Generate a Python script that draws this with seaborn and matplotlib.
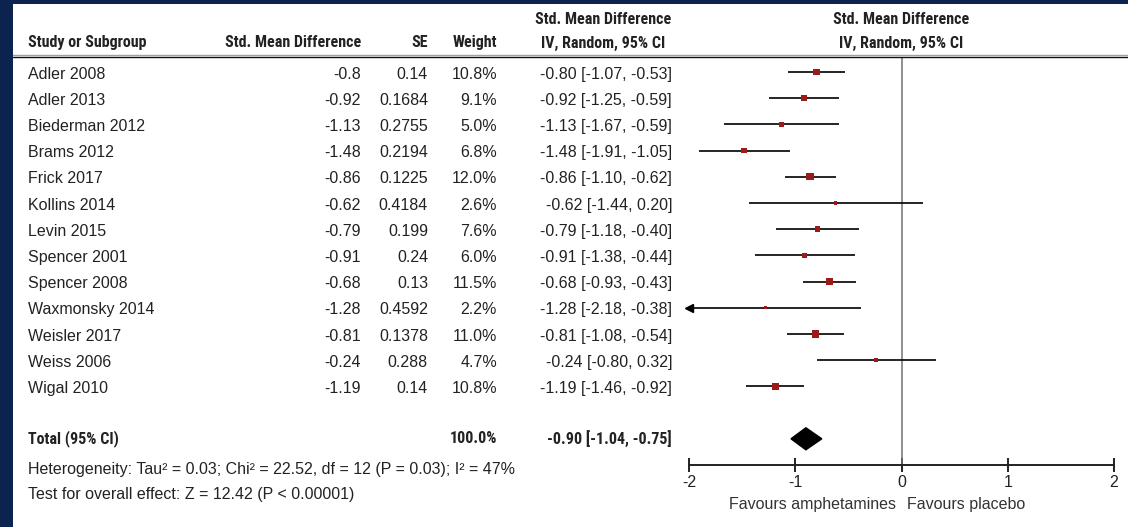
# Forest plot: amphetamines vs placebo, Std. Mean Difference (IV, Random, 95% CI)
import numpy as np
import pandas as pd
import matplotlib.pyplot as plt
import matplotlib.transforms as mtransforms
from matplotlib import font_manager
from matplotlib.lines import Line2D
from matplotlib.patches import Rectangle
import seaborn as sns

# Daten
studien = ["Adler 2008", "Adler 2013", "Biederman 2012", "Brams 2012", "Frick 2017",
           "Kollins 2014", "Levin 2015", "Spencer 2001", "Spencer 2008", "Waxmonsky 2014",
           "Weisler 2017", "Weiss 2006", "Wigal 2010"]
smd = [-0.8, -0.92, -1.13, -1.48, -0.86, -0.62, -0.79, -0.91, -0.68, -1.28, -0.81, -0.24, -1.19]
se = [0.14, 0.1684, 0.2755, 0.2194, 0.1225, 0.4184, 0.199, 0.24, 0.13, 0.4592, 0.1378, 0.288, 0.14]
gewicht = [10.8, 9.1, 5.0, 6.8, 12.0, 2.6, 7.6, 6.0, 11.5, 2.2, 11.0, 4.7, 10.8]
ci_low = [-1.07, -1.25, -1.67, -1.91, -1.10, -1.44, -1.18, -1.38, -0.93, -2.18, -1.08, -0.80, -1.46]
ci_high = [-0.53, -0.59, -0.59, -1.05, -0.62, 0.20, -0.40, -0.44, -0.43, -0.38, -0.54, 0.32, -0.92]

total_est, total_low, total_high = -0.90, -1.04, -0.75
total_weight = 100.0
heterogeneity = "Heterogeneity: Tau² = 0.03; Chi² = 22.52, df = 12 (P = 0.03); I² = 47%"
overall = "Test for overall effect: Z = 12.42 (P < 0.00001)"
x_ticks = [-2, -1, 0, 1, 2]
links_label = "Favours amphetamines"
rechts_label = "Favours placebo"

df = pd.DataFrame({"studie": studien, "smd": smd, "se": se, "w": gewicht,
                   "lo": ci_low, "hi": ci_high})
df["zeile"] = np.arange(len(df))

# Stil
sns.set_theme(style="white")
plt.rcParams["font.family"] = ["Liberation Sans", "DejaVu Sans"]
plt.rcParams["axes.unicode_minus"] = False
navy = "#0c2350"
rot = "#9b1b1b"
fs = 11.5

# schmale fette Schrift für Überschriften, falls vorhanden
vorhanden = {f.name for f in font_manager.fontManager.ttflist}
schmal = [n for n in ["Liberation Sans Narrow", "Arial Narrow", "Noto Sans Condensed",
                      "DejaVu Sans Condensed", "Roboto Condensed", "Open Sans Condensed"]
          if n in vorhanden]
if schmal:
    bold_font = [schmal[0], "Liberation Sans"]
    fs_bold = fs
else:
    bold_font = ["Liberation Sans", "DejaVu Sans"]
    fs_bold = 10.2

fig = plt.figure(figsize=(11.28, 5.27), dpi=100)
fig.patch.set_facecolor(navy)
fig.add_artist(Rectangle((13 / 1128, 0), 1, 1 - 4 / 527, transform=fig.transFigure,
                         facecolor="white", edgecolor="none", zorder=-10))

ax = fig.add_axes([689 / 1128, (527 - 465) / 527, 425 / 1128, (465 - 57) / 527])
ax.set_facecolor("none")
ax.set_xlim(-2, 2)
ax.set_ylim(15.0, -0.5725)

# Konfidenzintervalle
lo_clip = df["lo"].clip(lower=-2)
hi_clip = df["hi"].clip(upper=2)
ax.hlines(df["zeile"], lo_clip, hi_clip, color="black", lw=1.2, zorder=2)
pfeil = df[df["lo"] < -2]
ax.plot(np.full(len(pfeil), -2.0), pfeil["zeile"], marker="<", ls="none",
        color="black", ms=6, zorder=3, clip_on=False)

# Punktschätzer (Fläche ~ Gewicht)
sns.scatterplot(data=df, x="smd", y="zeile", size="w", sizes=(0, 28), size_norm=(0, 12),
                marker="s", color=rot, edgecolor="none", legend=False, ax=ax, zorder=4)

# Gesamt-Raute
total_row = len(df) + 1
ax.fill([total_low, total_est, total_high, total_est],
        [total_row, total_row - 0.42, total_row, total_row + 0.42],
        color="black", zorder=4)

ax.axvline(0, color="#707070", lw=1.1, zorder=1)

# Achse
for s in ["top", "left", "right"]:
    ax.spines[s].set_visible(False)
ax.spines["bottom"].set_color("#222222")
ax.spines["bottom"].set_linewidth(1.4)
ax.set_xticks(x_ticks)
ax.set_xticklabels([str(t) for t in x_ticks])
ax.set_yticks([])
ax.set_xlabel("")
ax.set_ylabel("")
ax.tick_params(axis="x", direction="inout", length=10, width=1.4, color="#222222",
               labelsize=fs, pad=2.5, bottom=True, labelcolor="#222222")
ax.text(-0.05, 16.5, links_label, ha="right", va="center", fontsize=fs, color="#333333")
ax.text(0.05, 16.5, rechts_label, ha="left", va="center", fontsize=fs, color="#333333")

# Tabelle links
tr = mtransforms.blended_transform_factory(fig.transFigure, ax.transData)
px = lambda p: p / 1128

hdr = dict(fontsize=fs_bold, fontweight="bold", family=bold_font, va="center", color="#222222")
ax.text(px(603), -1.985, "Std. Mean Difference", ha="center", transform=tr, **hdr)
ax.text(px(28), -1.107, "Study or Subgroup", ha="left", transform=tr, **hdr)
ax.text(px(361), -1.107, "Std. Mean Difference", ha="right", transform=tr, **hdr)
ax.text(px(428), -1.107, "SE", ha="right", transform=tr, **hdr)
ax.text(px(497), -1.107, "Weight", ha="right", transform=tr, **hdr)
ax.text(px(603), -1.107, "IV, Random, 95% CI", ha="center", transform=tr, **hdr)
ax.text(0, -1.985, "Std. Mean Difference", ha="center", **hdr)
ax.text(0, -1.107, "IV, Random, 95% CI", ha="center", **hdr)

# doppelte Kopflinie
fig.add_artist(Line2D([13 / 1128, 1], [-0.5725, -0.5725], transform=tr, color="#111111", lw=1.0))
fig.add_artist(Line2D([13 / 1128, 1], [-0.63, -0.63], transform=tr, color="#a0a0a0", lw=1.0))

body = dict(fontsize=fs, va="center", transform=tr, color="#222222")
for _, r in df.iterrows():
    y = r["zeile"] + 0.08
    ax.text(px(28), y, r["studie"], ha="left", **body)
    ax.text(px(361), y, f"{r['smd']:g}", ha="right", **body)
    ax.text(px(428), y, f"{r['se']:g}", ha="right", **body)
    ax.text(px(497), y, f"{r['w']:.1f}%", ha="right", **body)
    ax.text(px(672), y, f"{r['smd']:.2f} [{r['lo']:.2f}, {r['hi']:.2f}]", ha="right", **body)

tot = dict(hdr, transform=tr)
ax.text(px(28), total_row, "Total (95% CI)", ha="left", **tot)
ax.text(px(497), total_row, f"{total_weight:.1f}%", ha="right", **tot)
ax.text(px(672), total_row, f"{total_est:.2f} [{total_low:.2f}, {total_high:.2f}]", ha="right", **tot)
ax.text(px(28), 15.19, heterogeneity, ha="left", **body)
ax.text(px(28), 16.11, overall, ha="left", **body)

fig.savefig("out.png", dpi=100, facecolor=fig.get_facecolor())
